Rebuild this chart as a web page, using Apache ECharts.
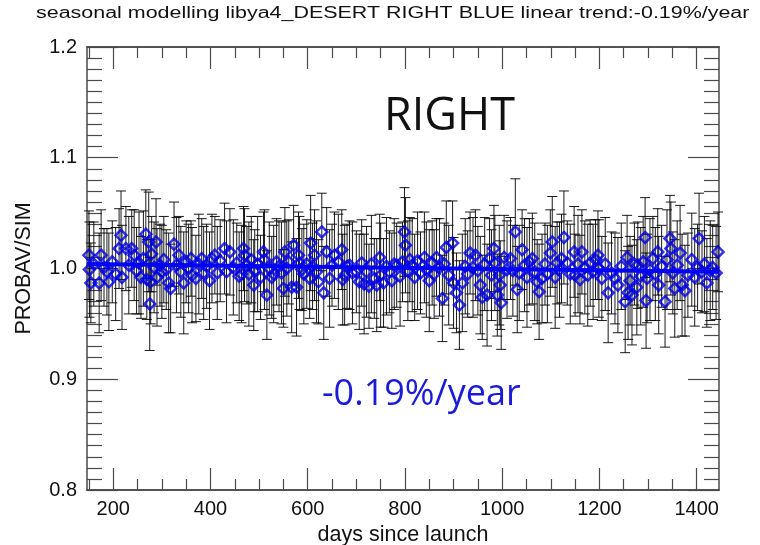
<!DOCTYPE html>
<html>
<head>
<meta charset="utf-8">
<script src="https://cdn.jsdelivr.net/npm/echarts@6/dist/echarts.min.js"></script>
<style>html,body{margin:0;padding:0;background:#fff}#c{width:760px;height:545px}</style>
</head>
<body>
<div id="c"></div>
<script>
const titleText = 'seasonal modelling libya4_DESERT RIGHT BLUE linear trend:-0.19%/year';
const xName = 'days since launch';
const yName = 'PROBAV/SIM';
const xMajorTicks = [200, 400, 600, 800, 1000, 1200, 1400];
const xMinorTicks = [150, 250, 300, 350, 450, 500, 550, 650, 700, 750, 850, 900, 950, 1050, 1100, 1150, 1250, 1300, 1350];
const yMin = 0.8, yMax = 1.2, yStep = 0.1;
const xMin = 146, xMax = 1446;

const days = [
 150,151,154,160,171,175,181,187,191,198,
 205,212,216,218,226,232,238,243,248,253,
 257,262,267,269,273,275,277,279,284,288,
 290,296,300,304,309,314,318,325,330,335,
 339,345,350,355,360,362,370,376,382,386,
 392,398,403,409,414,420,429,433,440,447,
 454,459,464,468,470,475,479,484,489,491,
 497,503,509,511,516,521,526,530,536,541,
 546,550,553,557,561,567,571,577,581,583,
 588,592,598,604,606,610,614,618,622,629,
 633,639,645,650,655,663,670,672,676,681,
 686,692,700,706,711,716,721,726,731,737,
 742,748,750,756,762,768,773,778,783,790,
 795,799,801,806,810,815,820,826,832,840,
 844,850,856,860,865,871,877,881,885,890,
 898,900,906,912,918,924,929,934,940,945,
 950,955,959,964,969,974,978,983,985,990,
 994,996,998,1004,1010,1017,1022,1027,1031,1035,
 1041,1046,1051,1056,1062,1067,1072,1076,1082,1088,
 1093,1099,1103,1109,1113,1118,1122,1127,1134,1140,
 1148,1150,1156,1160,1164,1170,1176,1181,1187,1192,
 1197,1199,1205,1212,1218,1225,1232,1238,1245,1253,
 1257,1259,1263,1267,1272,1277,1279,1285,1290,1294,
 1296,1298,1304,1310,1315,1320,1322,1328,1335,1339,
 1345,1347,1351,1355,1360,1366,1370,1376,1382,1390,
 1396,1402,1405,1411,1416,1421,1428,1433,1440,1444
];
const ratios = [
 1.012,0.999,0.987,1.004,0.987,1.012,1.001,0.997,0.988,1.006,
 0.995,1.018,1.030,0.992,1.018,1.003,1.018,1.012,0.998,1.005,
 0.992,1.009,1.031,0.990,1.024,0.968,0.988,1.013,1.001,1.024,
 0.992,1.003,0.997,1.008,0.999,0.987,0.982,1.022,1.003,1.012,
 0.997,0.987,1.006,1.000,1.009,0.994,0.991,1.004,1.009,0.996,
 1.002,0.989,1.009,1.012,0.996,1.007,1.018,0.997,1.015,1.001,
 1.005,0.993,0.995,1.018,1.012,1.003,0.995,1.008,0.985,0.998,
 1.004,0.992,1.015,1.008,0.976,1.000,0.992,0.995,1.006,1.002,
 0.996,0.982,1.015,1.000,1.006,0.983,1.021,0.983,1.012,1.005,
 0.999,0.995,1.004,0.991,1.023,1.002,1.012,0.997,0.988,1.033,
 0.978,1.015,0.991,1.003,1.012,1.006,1.017,0.990,0.994,1.002,
 1.003,0.996,0.997,0.988,1.005,0.986,0.997,0.984,1.004,0.991,
 0.985,1.010,0.994,0.987,1.002,0.997,0.989,1.004,1.003,0.993,
 1.006,1.033,1.021,0.998,1.008,1.003,0.992,1.007,0.996,1.010,
 0.999,0.989,1.005,0.995,1.010,1.001,0.973,1.004,1.019,0.994,
 1.023,0.987,0.978,0.967,0.987,1.002,0.995,1.014,1.001,1.012,
 0.998,0.985,0.974,1.004,0.976,1.009,0.994,1.018,1.005,0.976,
 0.994,0.985,0.969,1.010,0.999,1.009,0.998,1.033,0.981,0.996,
 1.017,1.003,0.992,1.006,1.009,0.997,0.988,0.979,0.991,1.004,
 0.995,1.014,1.024,0.992,1.005,0.999,1.009,1.028,1.005,0.995,
 1.015,0.994,1.004,0.990,1.015,1.001,0.994,1.005,0.997,1.008,
 1.012,1.000,0.991,1.004,0.978,0.996,0.991,0.985,1.002,0.970,
 1.010,0.978,0.989,0.976,1.004,0.983,1.003,0.993,1.006,1.028,
 0.971,0.991,0.999,1.009,0.995,1.015,0.985,1.002,0.970,1.008,
 1.027,1.018,0.996,0.982,1.003,1.014,0.985,0.980,0.994,1.008,
 0.992,1.001,1.027,0.997,1.004,0.987,0.998,1.001,0.996,1.015
];
const errors = [
 0.040,0.043,0.036,0.038,0.045,0.041,0.035,0.039,0.044,0.037,
 0.042,0.036,0.040,0.047,0.038,0.044,0.035,0.041,0.039,0.046,
 0.037,0.043,0.040,0.036,0.045,0.042,0.038,0.034,0.041,0.039,
 0.044,0.037,0.042,0.039,0.036,0.045,0.040,0.038,0.043,0.035,
 0.041,0.046,0.037,0.040,0.034,0.043,0.039,0.045,0.036,0.042,
 0.038,0.044,0.040,0.035,0.042,0.037,0.041,0.046,0.039,0.043,
 0.036,0.040,0.044,0.038,0.042,0.035,0.047,0.039,0.041,0.037,
 0.043,0.038,0.036,0.045,0.040,0.042,0.037,0.044,0.039,0.041,
 0.046,0.035,0.040,0.043,0.038,0.041,0.036,0.044,0.039,0.042,
 0.037,0.045,0.040,0.036,0.043,0.039,0.041,0.046,0.038,0.035,
 0.042,0.040,0.044,0.037,0.039,0.043,0.036,0.041,0.045,0.038,
 0.040,0.046,0.037,0.043,0.039,0.045,0.041,0.038,0.044,0.036,
 0.042,0.039,0.047,0.040,0.044,0.037,0.043,0.041,0.038,0.045,
 0.036,0.040,0.043,0.045,0.038,0.042,0.039,0.044,0.037,0.041,
 0.043,0.046,0.038,0.040,0.035,0.044,0.039,0.037,0.042,0.045,
 0.038,0.041,0.036,0.040,0.044,0.043,0.039,0.037,0.045,0.041,
 0.040,0.044,0.038,0.042,0.046,0.036,0.041,0.039,0.043,0.037,
 0.045,0.040,0.042,0.038,0.044,0.037,0.041,0.048,0.039,0.043,
 0.036,0.042,0.045,0.039,0.041,0.044,0.038,0.043,0.040,0.037,
 0.044,0.039,0.041,0.046,0.037,0.043,0.040,0.042,0.038,0.045,
 0.041,0.037,0.044,0.040,0.038,0.042,0.046,0.039,0.043,0.036,
 0.040,0.044,0.038,0.042,0.045,0.037,0.041,0.043,0.039,0.046,
 0.038,0.042,0.040,0.045,0.037,0.043,0.039,0.044,0.041,0.036,
 0.043,0.040,0.046,0.038,0.042,0.039,0.044,0.037,0.041,0.045,
 0.039,0.042,0.037,0.044,0.040,0.043,0.046,0.041,0.038,0.042,
 0.044,0.039,0.041,0.037,0.043,0.040,0.045,0.038,0.042,0.036
];
const trendDays = [146, 1446];
const trendValues = [1.0040, 0.9970];
const bigLabel = 'RIGHT';
const trendLabel = '-0.19%/year';

const FONT = '"Liberation Sans", Arial, Helvetica, sans-serif';
const AX = '#4a4a4a';
const points = days.map((d, i) => [d, ratios[i]]);
const bars = days.map((d, i) => [d, ratios[i] - errors[i], ratios[i] + errors[i]]);
const trend = trendDays.map((d, i) => [d, trendValues[i]]);

const axLine = { show: true, lineStyle: { color: AX, width: 1.5 } };
const tickStyle = { color: AX, width: 1.2 };
function xAx(pos, major, withLabels) {
  const vals = major ? xMajorTicks : xMinorTicks;
  const o = {
    type: 'value', min: xMin, max: xMax, position: pos,
    axisLine: axLine, splitLine: { show: false },
    axisTick: { show: true, inside: true, length: major ? 22 : 11, customValues: vals, lineStyle: tickStyle },
    axisLabel: { show: false }
  };
  if (withLabels) {
    o.axisLabel = { show: true, customValues: xMajorTicks, fontSize: 20, color: '#111', margin: 9, fontFamily: FONT, formatter: v => String(v) };
    o.name = xName; o.nameLocation = 'middle'; o.nameGap = 33;
    o.nameTextStyle = { fontSize: 21.5, color: '#111', fontFamily: FONT };
  }
  return o;
}
function yAx(pos, withLabels) {
  const o = {
    type: 'value', min: yMin, max: yMax, interval: yStep, position: pos,
    axisLine: axLine, splitLine: { show: false },
    axisTick: { show: true, inside: true, length: 31, lineStyle: tickStyle },
    minorTick: { show: true, splitNumber: 10, length: 15, lineStyle: tickStyle },
    minorSplitLine: { show: false },
    axisLabel: { show: false }
  };
  if (withLabels) {
    o.axisLabel = { show: true, fontSize: 20, color: '#111', margin: 10, fontFamily: FONT, formatter: v => v.toFixed(1) };
    o.name = yName; o.nameLocation = 'middle'; o.nameGap = 52;
    o.nameTextStyle = { fontSize: 21.5, color: '#111', fontFamily: FONT };
  }
  return o;
}

const chart = echarts.init(document.getElementById('c'), null, { renderer: 'canvas' });
chart.setOption({
  backgroundColor: '#fff',
  animation: false,
  grid: { left: 87, right: 41, top: 47, bottom: 55, containLabel: false, outerBoundsMode: 'none' },
  xAxis: [xAx('bottom', true, true), xAx('bottom', false, false), xAx('top', true, false), xAx('top', false, false)],
  yAxis: [yAx('left', true), yAx('right', false)],
  graphic: [
    { type: 'text', x: 36, y: 6, scaleX: 1.34, scaleY: 1, style: { text: titleText, fontSize: 16, fill: '#111', fontFamily: FONT }, z: 10 },
    { type: 'text', left: 384, top: 95, style: { text: bigLabel, fontSize: 45, fill: '#111', fontFamily: '"Open Sans", "Noto Sans", sans-serif' }, z: 10 },
    { type: 'text', left: 322, top: 377, style: { text: trendLabel, fontSize: 36, fill: '#1a1ad8', fontFamily: '"Open Sans", "Noto Sans", sans-serif' }, z: 10 }
  ],
  series: [
    {
      type: 'custom', xAxisIndex: 0, yAxisIndex: 0, z: 2,
      encode: { x: 0, y: [1, 2] },
      data: bars,
      renderItem: function (params, api) {
        const x = api.value(0);
        const top = api.coord([x, api.value(2)]);
        const bot = api.coord([x, api.value(1)]);
        const w = 5;
        const st = { stroke: 'rgba(0,0,0,0.9)', lineWidth: 1 };
        return {
          type: 'group', children: [
            { type: 'line', shape: { x1: top[0], y1: top[1], x2: bot[0], y2: bot[1] }, style: st },
            { type: 'line', shape: { x1: top[0] - w, y1: top[1], x2: top[0] + w, y2: top[1] }, style: st },
            { type: 'line', shape: { x1: bot[0] - w, y1: bot[1], x2: bot[0] + w, y2: bot[1] }, style: st }
          ]
        };
      },
      silent: true
    },
    {
      type: 'scatter', xAxisIndex: 0, yAxisIndex: 0, z: 3,
      symbol: 'diamond', symbolSize: [11, 11],
      itemStyle: { color: 'rgba(0,0,0,0)', borderColor: '#0000e6', borderWidth: 2.5 },
      data: points, silent: true
    },
    {
      type: 'line', xAxisIndex: 0, yAxisIndex: 0, z: 4,
      symbol: 'none', lineStyle: { color: '#0000ff', width: 4 },
      data: trend, silent: true
    }
  ]
});
</script>
</body>
</html>
